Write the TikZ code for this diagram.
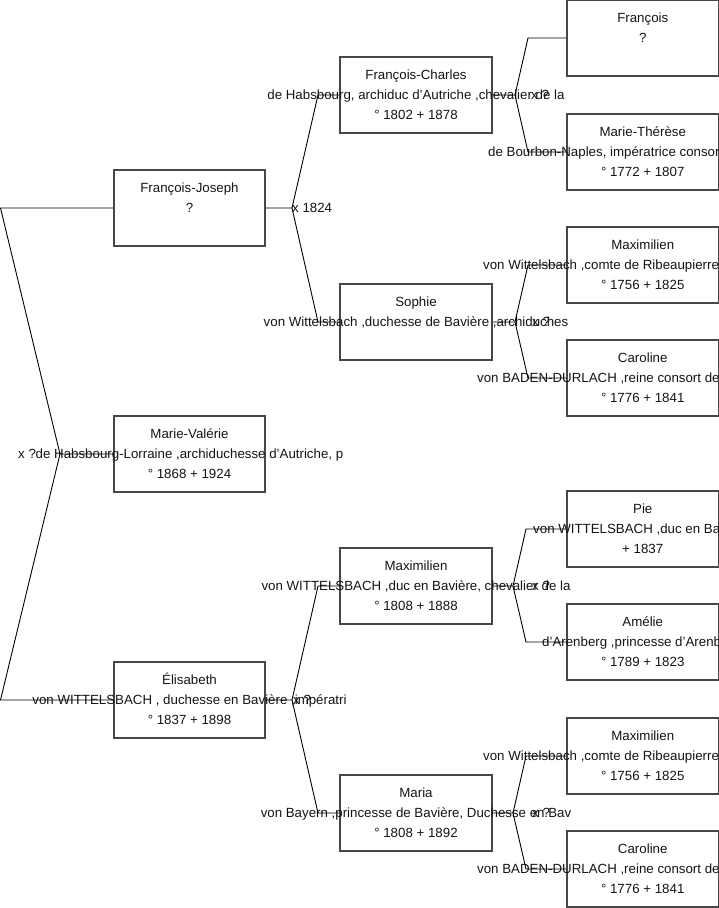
\documentclass[tikz,border=0pt]{standalone}
\usepackage{fontspec}
\setmainfont{Liberation Sans}
\tikzset{
  box/.style={draw=black!72, line width=1.1pt, inner sep=0pt, minimum height=76pt},
  box1/.style={box, minimum width=151pt},
  box2/.style={box, minimum width=152pt},
  box3/.style={box, minimum width=151.5pt},
  txt/.style={anchor=base, inner sep=0pt, font=\fontsize{13.3}{16}\selectfont, text=black!92},
  txtl/.style={txt, anchor=base west},
  lbl/.style={anchor=base west, inner sep=0pt, font=\fontsize{13.3}{16}\selectfont, text=black!92},
  conn/.style={draw=black, line width=0.9pt},
}
% name, centre x, top y, box style, line 1, line 2, line 3
\newcommand\personbox[7]{%
  \node[#4] (#1) at (#2,#3+38) {};
  \node[txt] (#1-a) at (#2,#3+22) {#5};
  \node[txt] (#1-b) at (#2,#3+42) {#6};
  \if\relax\detokenize{#7}\relax\else\node[txt] (#1-c) at (#2,#3+62) {#7};\fi
}
% same, but the second line starts at a given x (it runs past the page edge)
\newcommand\personboxcut[8]{%
  \node[#4] (#1) at (#2,#3+38) {};
  \node[txt] (#1-a) at (#2,#3+22) {#5};
  \node[txtl] (#1-b) at (#6,#3+42) {#7};
  \node[txt] (#1-c) at (#2,#3+62) {#8};
}
\begin{document}
\begin{tikzpicture}[x=1pt,y=-1pt]
\useasboundingbox (0,0) rectangle (719,908);
\clip (0,0) rectangle (719,908);

% column 1
\personbox{fj}{189.5}{170}{box1}{François-Joseph}{?}{}
\personbox{mv}{189.5}{416}{box1}{Marie-Valérie}{de Habsbourg-Lorraine ,archiduchesse d'Autriche, p}{° 1868 + 1924}
\personbox{el}{189.5}{662}{box1}{Élisabeth}{von WITTELSBACH , duchesse en Bavière ,impératri}{° 1837 + 1898}

% column 2
\personbox{fc}{416}{57}{box2}{François-Charles}{de Habsbourg, archiduc d'Autriche ,chevalier de la}{° 1802 + 1878}
\personbox{so}{416}{284}{box2}{Sophie}{von Wittelsbach ,duchesse de Bavière ,archiduches}{}
\personbox{mx}{416}{548}{box2}{Maximilien}{von WITTELSBACH ,duc en Bavière, chevalier de la}{° 1808 + 1888}
\personbox{ma}{416}{775}{box2}{Maria}{von Bayern ,princesse de Bavière, Duchesse en Bav}{° 1808 + 1892}

% column 3
\personbox{fr}{642.75}{0}{box3}{François}{?}{}
\personboxcut{mt}{642.75}{114}{box3}{Marie-Thérèse}{488}{de Bourbon-Naples, impératrice consort}{° 1772 + 1807}
\personboxcut{mxa}{642.75}{227}{box3}{Maximilien}{483}{von Wittelsbach ,comte de Ribeaupierre}{° 1756 + 1825}
\personboxcut{caa}{642.75}{340}{box3}{Caroline}{477}{von BADEN-DURLACH ,reine consort de}{° 1776 + 1841}
\personboxcut{pie}{642.75}{491}{box3}{Pie}{533}{von WITTELSBACH ,duc en Bavière}{+ 1837}
\personboxcut{am}{642.75}{604}{box3}{Amélie}{542}{d'Arenberg ,princesse d'Arenberg}{° 1789 + 1823}
\personboxcut{mxb}{642.75}{718}{box3}{Maximilien}{483}{von Wittelsbach ,comte de Ribeaupierre}{° 1756 + 1825}
\personboxcut{cab}{642.75}{831}{box3}{Caroline}{477}{von BADEN-DURLACH ,reine consort de}{° 1776 + 1841}

% junctions and corners
\coordinate (j0) at (60,454);  \coordinate (c0a) at (0.5,208); \coordinate (c0b) at (0.5,700);
\coordinate (j1) at (292,208); \coordinate (c1a) at (318,95);  \coordinate (c1b) at (318,322);
\coordinate (j2) at (292,700); \coordinate (c2a) at (318,586); \coordinate (c2b) at (318,813);
\coordinate (j3) at (515,95);  \coordinate (c3a) at (528,38);  \coordinate (c3b) at (528,152);
\coordinate (j4) at (515,322); \coordinate (c4a) at (528,265); \coordinate (c4b) at (528,378);
\coordinate (j5) at (513,586); \coordinate (c5a) at (526,529); \coordinate (c5b) at (526,642);
\coordinate (j6) at (513,813); \coordinate (c6a) at (526,756); \coordinate (c6b) at (526,869);

% connectors
\draw[conn] (mv.west) -- (j0) -- (c0a) -- (fj.west);
\draw[conn] (j0) -- (c0b) -- (el.west);
\draw[conn] (fj.east) -- (j1) -- (c1a) -- (fc.west);
\draw[conn] (j1) -- (c1b) -- (so.west);
\draw[conn] (el.east) -- (j2) -- (c2a) -- (mx.west);
\draw[conn] (j2) -- (c2b) -- (ma.west);
\draw[conn] (fc.east) -- (j3) -- (c3a) -- (fr.west);
\draw[conn] (j3) -- (c3b) -- (mt.west);
\draw[conn] (so.east) -- (j4) -- (c4a) -- (mxa.west);
\draw[conn] (j4) -- (c4b) -- (caa.west);
\draw[conn] (mx.east) -- (j5) -- (c5a) -- (pie.west);
\draw[conn] (j5) -- (c5b) -- (am.west);
\draw[conn] (ma.east) -- (j6) -- (c6a) -- (mxb.west);
\draw[conn] (j6) -- (c6b) -- (cab.west);

% marriage labels
\node[lbl] (l0) at (18,458) {x ?};
\node[lbl] (l1) at (292,212) {x 1824};
\node[lbl] (l2) at (293,704) {x ?};
\node[lbl] (l3) at (531,99) {x ?};
\node[lbl] (l4) at (532,326) {x ?};
\node[lbl] (l5) at (532,590) {x ?};
\node[lbl] (l6) at (532,817) {x ?};
\end{tikzpicture}
\end{document}
